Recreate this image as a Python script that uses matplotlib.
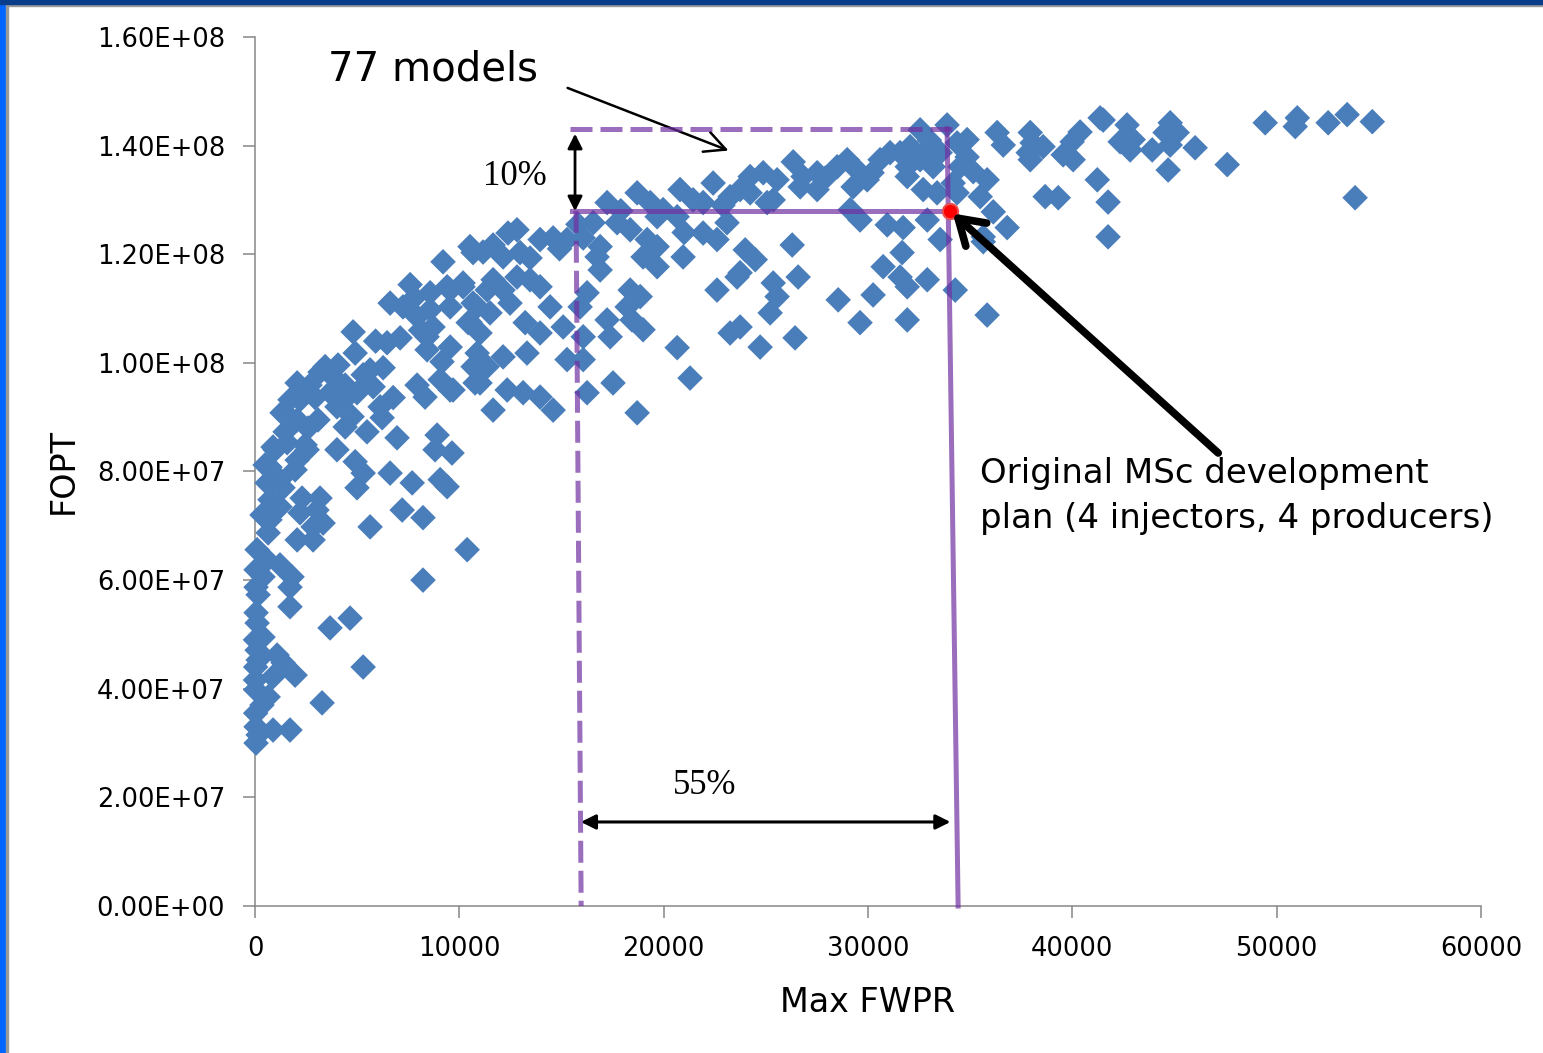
import matplotlib
matplotlib.use("Agg")
import matplotlib.pyplot as plt
from matplotlib.patches import Rectangle
from matplotlib.ticker import FuncFormatter
import numpy as np

plt.rcParams['font.family'] = ['DejaVu Sans']

# model runs: (Max FWPR in thousands, FOPT in 1e7)
left_cluster = [
    (1.22, 7.35), (0.73, 7.11), (0.64, 6.87), (2.20, 7.24), (3.03, 7.29), (2.84, 6.98),
    (3.33, 7.05), (2.06, 6.74), (2.84, 6.74), (5.63, 6.98), (7.20, 7.29), (8.22, 7.15),
    (0.10, 6.56), (0.59, 6.37), (1.22, 6.28), (0.05, 6.19), (0.39, 6.06), (1.81, 6.06),
    (0.05, 5.87), (1.71, 5.87), (0.15, 5.73), (8.22, 6.00), (1.71, 5.51), (0.05, 5.40),
    (0.10, 5.21), (4.65, 5.30), (3.67, 5.12), (0.02, 4.90), (0.39, 4.95), (0.10, 4.71),
    (1.08, 4.62), (1.37, 4.48), (0.03, 4.40), (1.96, 4.25), (5.29, 4.40), (0.02, 4.16),
    (0.88, 4.22), (0.64, 3.85), (0.03, 3.98), (3.28, 3.74), (0.03, 3.55), (0.05, 3.30),
    (0.88, 3.24), (1.71, 3.24), (0.05, 3.00), (10.38, 6.56), (0.15, 3.15), (0.34, 3.70),
    (0.15, 4.53),
]
rising_band = [
    (9.20, 11.86), (10.67, 12.03), (7.59, 11.44), (8.57, 11.29), (9.40, 11.40), (10.18, 11.40),
    (6.61, 11.10), (7.24, 11.03), (7.93, 10.85), (8.57, 10.98), (9.55, 11.03), (10.67, 11.10),
    (4.80, 10.57), (6.46, 10.37), (7.10, 10.46), (8.42, 10.48), (8.71, 10.66), (9.55, 10.29),
    (8.42, 10.24), (10.52, 10.75), (4.90, 10.18), (5.63, 9.87), (6.27, 9.91), (9.15, 10.02),
    (2.06, 9.63), (3.43, 9.93), (3.82, 9.74), (5.29, 9.78), (5.78, 9.56), (7.93, 9.59),
    (9.06, 9.69), (9.55, 9.50), (10.67, 9.93), (10.77, 9.63), (2.20, 9.32), (2.94, 9.36),
    (3.67, 9.45), (4.50, 9.37), (4.99, 9.45), (6.76, 9.36), (8.32, 9.37), (1.32, 9.08),
    (2.06, 8.95), (2.59, 8.80), (4.01, 9.19), (4.75, 9.01), (4.41, 8.82), (6.12, 9.19),
    (6.22, 8.99), (5.48, 8.73), (6.95, 8.62), (8.91, 8.67), (0.88, 8.45), (1.57, 8.53),
    (2.55, 8.40), (4.01, 8.40), (8.81, 8.40), (9.64, 8.34), (0.73, 8.08), (2.06, 8.21),
    (4.90, 8.18), (5.29, 7.97), (6.61, 7.97), (7.69, 7.79), (9.06, 7.85), (0.59, 7.79),
    (1.37, 7.70), (2.30, 7.51), (3.18, 7.51), (4.99, 7.70), (9.40, 7.72),
    (0.49, 8.12), (0.98, 8.40), (1.47, 8.73), (1.81, 8.95), (0.73, 7.48), (0.34, 7.20),
    (1.22, 7.85), (1.96, 8.03), (2.45, 8.49), (3.08, 8.95), (1.71, 9.32), (2.69, 9.59),
    (3.18, 9.83), (4.06, 9.96), (4.41, 9.59), (7.80, 11.20), (8.10, 10.60), (5.90, 10.40),
]
mid_band = [
    (10.52, 12.14), (11.16, 12.04), (11.65, 12.17), (12.38, 12.39), (12.82, 12.45), (12.14, 11.95),
    (12.97, 12.03), (13.46, 11.93), (13.95, 12.27), (14.59, 12.30), (15.27, 12.27), (16.06, 12.30),
    (16.55, 12.58), (17.23, 12.95), (16.89, 12.14), (16.74, 11.95), (16.89, 11.71), (17.72, 12.58),
    (18.36, 12.45), (18.70, 13.13), (19.34, 12.95), (19.68, 12.69), (19.19, 12.27), (19.68, 12.14),
    (18.99, 11.95), (19.68, 11.77), (19.97, 12.82), (20.80, 13.19), (20.66, 12.69), (20.95, 11.95),
    (21.44, 13.00), (21.93, 12.95), (22.42, 13.31), (21.93, 12.39), (22.61, 12.27), (23.25, 13.06),
    (23.10, 12.58), (23.59, 11.58), (22.61, 11.34), (23.74, 13.19), (23.99, 12.08), (9.55, 11.34),
    (10.18, 11.47), (10.87, 11.03), (11.36, 11.34), (11.65, 11.53), (12.14, 11.34), (12.82, 11.58),
    (13.46, 11.53), (13.95, 11.40), (14.44, 11.03), (12.48, 11.10), (11.50, 10.92), (10.43, 10.74),
    (11.01, 10.55), (10.87, 10.18), (12.14, 10.11), (13.22, 10.74), (13.95, 10.55), (15.08, 10.66),
    (13.31, 10.18), (15.27, 10.06), (11.36, 9.93), (11.01, 9.63), (9.69, 9.50), (12.34, 9.50),
    (13.12, 9.45), (13.95, 9.37), (14.59, 9.13), (11.65, 9.13), (16.25, 11.29), (15.91, 11.03),
    (16.06, 10.48), (16.06, 10.06), (16.25, 9.45), (17.23, 10.79), (17.38, 10.48), (18.36, 11.34),
    (18.85, 11.22), (18.21, 11.03), (18.99, 10.61), (18.45, 10.79), (17.52, 9.63), (18.70, 9.08),
    (20.66, 10.28), (21.29, 9.72), (23.25, 10.55), (23.74, 10.66), (17.90, 12.80), (21.00, 12.40),
    (22.90, 12.90), (15.80, 12.55), (14.90, 12.10),
]
plateau = [
    (33.87, 14.38), (32.55, 14.29), (32.06, 13.98), (31.57, 13.87), (32.90, 13.92), (33.53, 13.87),
    (34.36, 14.05), (34.85, 14.11), (36.32, 14.24), (36.62, 14.01), (37.94, 14.24), (38.08, 13.92),
    (34.85, 13.79), (34.51, 13.61), (35.15, 13.52), (35.83, 13.37), (35.49, 13.06), (36.13, 12.78),
    (36.81, 12.49), (24.23, 13.43), (24.87, 13.50), (25.55, 13.37), (26.34, 13.70), (26.82, 13.43),
    (27.51, 13.50), (28.49, 13.61), (28.98, 13.74), (29.47, 13.55), (30.59, 13.74), (31.08, 13.87),
    (31.92, 13.61), (32.55, 13.74), (33.19, 13.61), (31.92, 13.43), (32.70, 13.19), (33.38, 13.13),
    (34.17, 13.31), (34.36, 13.13), (29.96, 13.37), (29.27, 13.24), (27.51, 13.19), (26.68, 13.24),
    (25.36, 13.00), (24.23, 13.13), (25.06, 12.95), (29.13, 12.82), (29.61, 12.63), (30.94, 12.54),
    (31.72, 12.49), (32.90, 12.63), (33.53, 12.27), (35.64, 12.32), (26.29, 12.17), (24.48, 11.90),
    (23.74, 11.66), (26.58, 11.58), (30.74, 11.77), (31.67, 12.03), (31.57, 11.58), (31.92, 11.40),
    (32.90, 11.53), (25.36, 11.47), (25.55, 11.22), (25.21, 10.92), (28.54, 11.16), (30.25, 11.25),
    (31.92, 10.79), (29.61, 10.74), (34.27, 11.34), (35.83, 10.88), (26.43, 10.46), (24.72, 10.29),
    (27.90, 13.40), (30.20, 13.50), (33.00, 14.10),
]
far_right = [
    (38.03, 14.05), (38.57, 13.98), (37.84, 13.87), (37.94, 13.74), (39.55, 13.83), (40.04, 13.74),
    (40.38, 14.25), (39.99, 14.07), (41.36, 14.51), (41.51, 14.47), (42.68, 14.38), (42.34, 14.07),
    (42.83, 13.92), (42.98, 14.11), (43.91, 13.92), (44.79, 14.42), (44.54, 14.24), (45.13, 14.24),
    (44.79, 14.01), (46.01, 13.96), (44.69, 13.55), (47.58, 13.65), (49.44, 14.42), (51.01, 14.51),
    (50.91, 14.35), (52.52, 14.42), (53.45, 14.57), (54.68, 14.44), (53.84, 13.04), (41.22, 13.37),
    (41.75, 12.96), (41.75, 12.32), (38.67, 13.06), (39.31, 13.04), (35.64, 12.23),
]

orig_plan = (34.0, 12.80)       # original MSc development plan
top_fopt = 14.31                # best FOPT (top of the 10% box)
low_fwpr = (15.71, 15.96)       # dashed vertical, top -> bottom
orig_fwpr = (33.87, 34.41)      # solid vertical, top -> bottom

pts = np.array(left_cluster + rising_band + mid_band + plateau + far_right)
fwpr = pts[:, 0] * 1000
fopt = pts[:, 1] * 1e7

fig = plt.figure(figsize=(15.43, 10.53), dpi=100)
ax = fig.add_axes([0.1653, 0.1396, 0.7945, 0.8253])

ax.scatter(fwpr, fopt, marker='D', s=170, color='#4A7EBB', edgecolors='none',
           clip_on=False, zorder=3)

purple = '#7030A0'
px, py = orig_plan[0] * 1000, orig_plan[1] * 1e7
ax.plot([15.5e3, px], [py, py], color=purple, alpha=0.7, lw=3.6, zorder=4)
ax.plot([15.42e3, orig_fwpr[0] * 1000 + 500], [top_fopt * 1e7] * 2, color=purple, alpha=0.7,
        lw=3.6, ls=(0, (4.4, 1.6)), zorder=4)
ax.plot([low_fwpr[0] * 1000, low_fwpr[1] * 1000], [py, 0], color=purple, alpha=0.7,
        lw=3.6, ls=(0, (4.4, 1.6)), zorder=4, clip_on=False)
ax.plot([orig_fwpr[0] * 1000, orig_fwpr[1] * 1000], [top_fopt * 1e7, 0], color=purple,
        alpha=0.7, lw=3.6, zorder=4, clip_on=False)

ax.plot([px], [py], 'o', ms=11, color='#FF0000', mec='#E85050', mew=1.5, zorder=6)

# arrows and labels
ax.annotate('', xy=(15.66e3, 12.74e7), xytext=(15.66e3, 14.27e7),
            arrowprops=dict(arrowstyle='<|-|>', color='black', lw=2.0, mutation_scale=22))
ax.text(12.73e3, 13.43e7, '10%', family='Liberation Serif', fontsize=25, ha='center', va='center')
ax.annotate('', xy=(15.81e3, 1.547e7), xytext=(34.17e3, 1.547e7),
            arrowprops=dict(arrowstyle='<|-|>', color='black', lw=2.2, mutation_scale=22))
ax.text(22.03e3, 2.21e7, '55%', family='Liberation Serif', fontsize=25, ha='center', va='center')

ax.annotate('', xy=(23.3e3, 13.89e7), xytext=(15.17e3, 15.08e7),
            arrowprops=dict(arrowstyle='->, head_length=0.6, head_width=0.3', color='black',
                            lw=1.8, mutation_scale=25))
ax.text(8.71e3, 15.4e7, '77 models', fontsize=29, ha='center', va='center')

ax.annotate('', xy=(px + 150, py - 0.05e7), xytext=(47.14e3, 8.34e7),
            arrowprops=dict(arrowstyle='->, head_length=0.55, head_width=0.35', color='black',
                            lw=5.5, mutation_scale=32, shrinkA=0, shrinkB=0), zorder=7)
ax.text(35.49e3, 7.55e7, 'Original MSc development\nplan (4 injectors, 4 producers)',
        fontsize=24.5, ha='left', va='center', linespacing=1.45)

ax.set_xlim(0, 60000)
ax.set_ylim(0, 1.6e8)
ax.set_xticks(np.arange(0, 60001, 10000))
ax.set_yticks(np.arange(0, 1.6e8 + 1, 2e7))
ax.yaxis.set_major_formatter(FuncFormatter(lambda v, _: f'{v:.2E}'))
ax.xaxis.set_major_formatter(FuncFormatter(lambda v, _: f'{int(v)}'))
ax.tick_params(labelsize=18.5, length=8.5, width=1.1, color='#868686', pad=13)

for side in ['top', 'right']:
    ax.spines[side].set_visible(False)
for side in ['left', 'bottom']:
    ax.spines[side].set_color('#868686')
    ax.spines[side].set_linewidth(1.1)

ax.set_xlabel('Max FWPR', fontsize=24)
ax.set_ylabel('FOPT', fontsize=24)
ax.xaxis.set_label_coords(0.5, -0.092)
ax.yaxis.set_label_coords(-0.143, 0.5)

# slide frame
fig.patches.append(Rectangle((0, 0), 0.0042, 1, transform=fig.transFigure, color='#0066FF', zorder=0))
fig.patches.append(Rectangle((0.0042, 0), 0.0013, 1, transform=fig.transFigure, color='#999999', zorder=0))
fig.patches.append(Rectangle((0, 0.9962), 1, 0.0038, transform=fig.transFigure, color='#0A3C8C', zorder=1))
fig.patches.append(Rectangle((0.0042, 0.9943), 1, 0.0019, transform=fig.transFigure, color='#999999', zorder=0))

fig.savefig('out.png', dpi=100)
